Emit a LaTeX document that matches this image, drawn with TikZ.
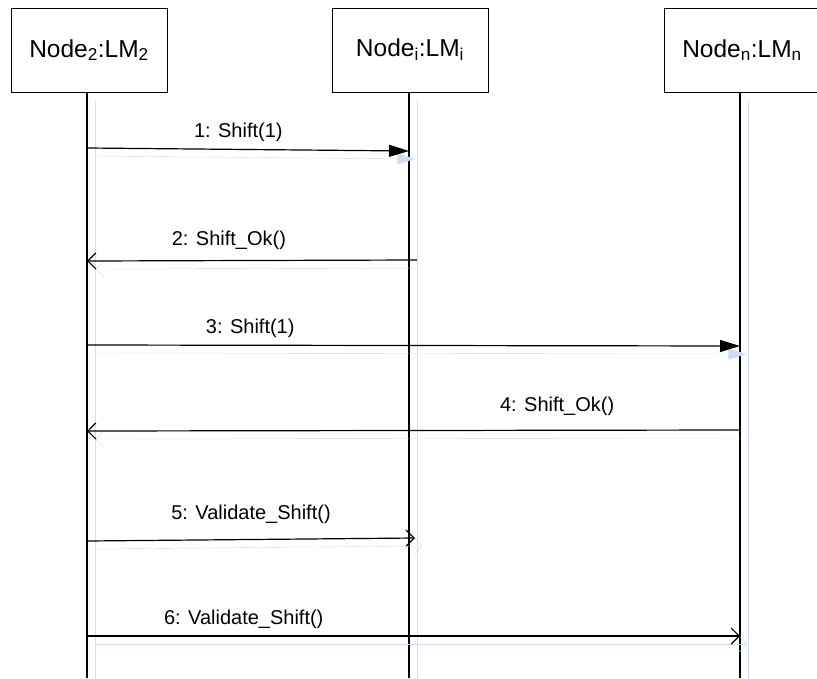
\documentclass[tikz,border=0pt]{standalone}
\usepackage{fontspec}
\setmainfont{Liberation Sans}
\usetikzlibrary{arrows.meta,positioning}
\definecolor{ghostblue}{RGB}{208,220,243}
\tikzset{
  lifebox/.style={draw,line width=1pt,minimum width=156pt,minimum height=84pt,inner sep=0pt,
    font=\fontsize{24.5}{28}\selectfont},
  life/.style={line width=1.2pt,preaction={draw=ghostblue,transform canvas={shift={(8pt,-8pt)}}}},
  call/.style={line width=1.2pt,-{Triangle[length=20pt,width=12pt]},
    preaction={draw=ghostblue,-{Triangle[length=20pt,width=12pt]},transform canvas={shift={(8pt,-8pt)}}}},
  reply/.style={line width=1.2pt,-{Straight Barb[length=8pt,width=16pt]},
    preaction={draw=ghostblue,-{Straight Barb[length=8pt,width=16pt]},transform canvas={shift={(8pt,-8pt)}}}},
  msg/.style={above=7pt,font=\fontsize{20}{24}\selectfont,inner sep=0pt}
}
\begin{document}
\begin{tikzpicture}[x=1pt,y=-1pt]
\useasboundingbox (0,0) rectangle (817,678);
% objects
\node[lifebox] (N2) at (89,50) {Node\textsubscript{2}:LM\textsubscript{2}};
\node[lifebox] (Ni) at (410,50) {Node\textsubscript{i}:LM\textsubscript{i}};
\node[lifebox,minimum width=180pt] (Nn) at (754,50) {Node\textsubscript{n}:LM\textsubscript{n}\hspace*{24pt}};
\coordinate (E2) at (87,678);
\coordinate (Ei) at (409,678);
\coordinate (En) at (740,678);
% lifelines
\draw[life] (N2.south -| E2) -- (E2);
\draw[life] (Ni.south -| Ei) -- (Ei);
\draw[life] (Nn.south -| En) -- (En);
% message ends
\coordinate (a1) at (87,148);  \coordinate (b1) at (409,151);
\coordinate (a2) at (417,260); \coordinate (b2) at (87,261);
\coordinate (a3) at (87,345);  \coordinate (b3) at (740,346);
\coordinate (a4) at (740,430); \coordinate (b4) at (87,431);
\coordinate (a5) at (87,541);  \coordinate (b5) at (415,538);
\coordinate (a6) at (87,636);  \coordinate (b6) at (740,636);
% messages
\path
(a1) edge[call] node[msg,pos=0.47]{1: Shift(1)} (b1)
(a2) edge[reply] node[msg,pos=0.57,above=10pt]{2: Shift\_Ok()} (b2)
(a3) edge[call] node[msg,pos=0.25]{3: Shift(1)} (b3)
(a4) edge[reply] node[msg,pos=0.28,above=14pt]{4: Shift\_Ok()} (b4)
(a5) edge[reply] node[msg,pos=0.5,above=15pt]{5: Validate\_Shift()} (b5)
(a6) edge[reply] node[msg,pos=0.24]{6: Validate\_Shift()} (b6);
\end{tikzpicture}
\end{document}
